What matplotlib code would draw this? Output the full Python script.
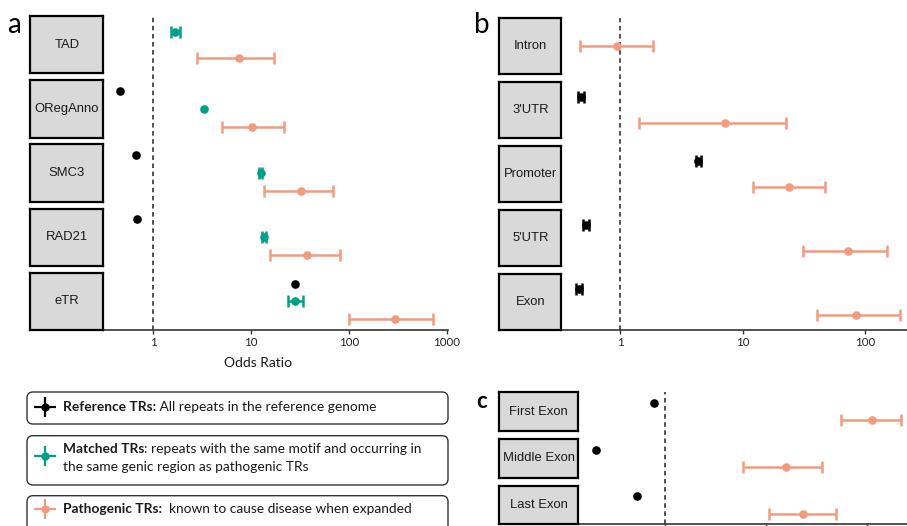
import numpy as np
import matplotlib
matplotlib.use('Agg')
import matplotlib.pyplot as plt
from matplotlib.patches import FancyBboxPatch
from matplotlib.ticker import NullLocator

nan = np.nan

# ---- data (odds ratio, lower CI, upper CI) ----
facets_a = ['TAD', 'ORegAnno', 'SMC3', 'RAD21', 'eTR']
ref_a = [nan, 0.457, 0.666, 0.676, 28.2]
ref_a_lo = [nan, nan, nan, nan, nan]
ref_a_hi = [nan, nan, nan, nan, nan]
matched_a = [1.68, 3.3, 12.5, 13.5, 28.0]
matched_a_lo = [1.52, nan, 12.0, 13.0, 23.8]
matched_a_hi = [1.89, nan, 13.0, 14.1, 33.8]
path_a = [7.5, 10.2, 32.3, 37.4, 294]
path_a_lo = [2.83, 5.03, 13.5, 15.7, 99.8]
path_a_hi = [17.3, 21.6, 69.5, 80.7, 730]

facets_b = ['Intron', "3'UTR", 'Promoter', "5'UTR", 'Exon']
ref_b = [nan, 0.48, 4.36, 0.53, 0.46]
ref_b_lo = [nan, 0.455, 4.13, 0.50, 0.435]
ref_b_hi = [nan, 0.505, 4.60, 0.56, 0.485]
path_b = [0.94, 7.2, 24.1, 72.2, 84.5]
path_b_lo = [0.47, 1.43, 12.1, 31.4, 40.6]
path_b_hi = [1.85, 22.8, 47.5, 152, 195]

facets_c = ['First Exon', 'Middle Exon', 'Last Exon']
ref_c = [0.796, 0.212, 0.534]
path_c = [112, 15.8, 23.4]
path_c_lo = [55.9, 5.94, 10.7]
path_c_hi = [219, 36.3, 49.2]

COL = {'ref': '#000000', 'matched': '#00A087', 'path': '#F39B7F'}
ORDER = ['ref', 'matched', 'path']

W, H = 907, 526
fig = plt.figure(figsize=(W / 100, H / 100), dpi=100)


def px_rect(x0, y0, x1, y1):
    return [x0 / W, 1 - y1 / H, (x1 - x0) / W, (y1 - y0) / H]


def draw_panel(facets, series, xlim, ticks, strip_x0, data_x0, data_x1, top, pitch, h,
               show_labels=True):
    bottom = top + pitch * (len(facets) - 1) + h
    base = fig.add_axes(px_rect(data_x0, top, data_x1, bottom))
    base.set_xscale('log')
    base.set_xlim(xlim)
    base.set_ylim(0, 1)
    base.patch.set_alpha(0)
    base.axvline(1, color='#222222', lw=1.1, ls=(0, (3, 2.3)))
    for s in ['top', 'right', 'left']:
        base.spines[s].set_visible(False)
    base.spines['bottom'].set_color('#333333')
    base.spines['bottom'].set_linewidth(1.2)
    base.set_yticks([])
    base.set_xticks(ticks)
    # panel c's labels sit below the figure edge in the original
    labels = [f'{t:g}' for t in ticks] if show_labels else [''] * len(ticks)
    base.set_xticklabels(labels, family='Lato')
    base.xaxis.set_minor_locator(NullLocator())
    base.tick_params(axis='x', length=3, width=1, color='#333333', labelsize=8.3,
                     labelcolor='#222222', pad=2)

    for i, name in enumerate(facets):
        y0 = top + i * pitch
        st = fig.add_axes(px_rect(strip_x0, y0, data_x0, y0 + h))
        st.set_facecolor('#d9d9d9')
        st.set_xticks([])
        st.set_yticks([])
        for sp in st.spines.values():
            sp.set_linewidth(1.6)
        st.text(0.5, 0.5, name, ha='center', va='center', fontsize=9.4,
                family='Liberation Sans', color='#1a1a1a', transform=st.transAxes)

        ax = fig.add_axes(px_rect(data_x0, y0, data_x1, y0 + h))
        ax.set_xscale('log')
        ax.set_xlim(xlim)
        ax.axis('off')
        groups = [g for g in ORDER if g in series and not np.isnan(series[g][0][i])]
        ax.set_ylim(len(groups) + 0.6, 0.4)
        for k, g in enumerate(groups, start=1):
            val, lo, hi = series[g][0][i], series[g][1][i], series[g][2][i]
            if not np.isnan(lo):
                ax.errorbar(val, k, xerr=[[val - lo], [hi - val]], fmt='none',
                            ecolor=COL[g], elinewidth=1.8, capsize=4.3, capthick=1.8,
                            clip_on=False)
            ax.plot(val, k, 'o', color=COL[g], ms=6.2, mec='none', clip_on=False)
    return base


draw_panel(facets_a,
           {'ref': (ref_a, ref_a_lo, ref_a_hi),
            'matched': (matched_a, matched_a_lo, matched_a_hi),
            'path': (path_a, path_a_lo, path_a_hi)},
           (0.308, 1031), [1, 10, 100, 1000], 30.3, 103.3, 448, 16, 64.2, 57.3)

draw_panel(facets_b,
           {'ref': (ref_b, ref_b_lo, ref_b_hi),
            'path': (path_b, path_b_lo, path_b_hi)},
           (0.33, 221), [1, 10, 100], 499.3, 561.3, 907, 17.7, 64.0, 56.3)

draw_panel(facets_c,
           {'ref': (ref_c, [nan] * 3, [nan] * 3),
            'path': (path_c, path_c_lo, path_c_hi)},
           (0.1406, 249), [1, 10, 100], 499, 578.3, 907, 392.3, 46.7, 38.7,
           show_labels=False)

# ---- overlay for labels and legend (pixel coordinates) ----
lay = fig.add_axes([0, 0, 1, 1])
lay.set_xlim(0, W)
lay.set_ylim(H, 0)
lay.axis('off')

lay.text(14, 25, 'a', fontsize=20, family='Lato', ha='center', va='center')
lay.text(482, 25, 'b', fontsize=20, family='Lato', ha='center', va='center')
lay.text(482, 401, 'c', fontsize=16, family='Lato', fontweight='bold', ha='center', va='center')
lay.text(258, 363, 'Odds Ratio', fontsize=10, family='Lato', ha='center', va='center',
         color='#1a1a1a')

boxes = [(392, 32), (435.7, 49.3), (495.7, 40)]
for by, bh in boxes:
    lay.add_patch(FancyBboxPatch((27, by), 421, bh, boxstyle='round,pad=0,rounding_size=6',
                                 fc='white', ec='#333333', lw=1, clip_on=False))


def icon(cy, color):
    lay.plot([33.5, 55.5], [cy, cy], color=color, lw=1.6, solid_capstyle='butt')
    lay.plot([44.5, 44.5], [cy - 10, cy + 10], color=color, lw=1.6, solid_capstyle='butt')
    lay.plot(44.5, cy, 'o', color=color, ms=6, mec='none')


FS = 9.9


def rich(y, bold, rest):
    t = lay.text(63, y, bold, fontsize=FS, family='Lato', fontweight='bold',
                 color='#1a1a1a', ha='left', va='center')
    lay.annotate(rest, xy=(1, 0), xycoords=t, fontsize=FS, family='Lato',
                 color='#1a1a1a', ha='left', va='bottom')


icon(407, COL['ref'])
rich(407, 'Reference TRs:', ' All repeats in the reference genome')
icon(455.7, COL['matched'])
rich(449.3, 'Matched TRs', ': repeats with the same motif and occurring in')
lay.text(63, 467.3, 'the same genic region as pathogenic TRs', fontsize=FS, family='Lato',
         color='#1a1a1a', ha='left', va='center')
icon(509, COL['path'])
rich(509, 'Pathogenic TRs:', '  known to cause disease when expanded')

fig.savefig('out.png', dpi=100)
